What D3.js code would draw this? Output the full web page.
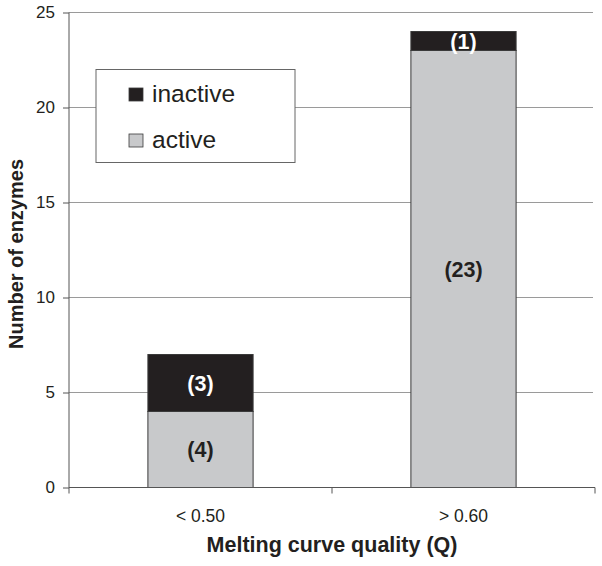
<!DOCTYPE html>
<html><head><meta charset="utf-8">
<script src="https://cdn.jsdelivr.net/npm/d3@7"></script>
<style>body{margin:0;background:#fff;} text{font-family:"Liberation Sans",Arial,Helvetica,sans-serif;}</style>
</head><body><svg id="c" width="602" height="566"></svg>
<script>
const categories = ["< 0.50", "> 0.60"];
const active = [4, 23];
const inactive = [3, 1];
const yTicks = [0, 5, 10, 15, 20, 25];
const seriesNames = ["inactive", "active"];
const colors = {inactive: "#231f20", active: "#c8c9cb"};

const svg = d3.select("#c");
const L = 69, R = 595, T = 12.5, B = 487.5;
const x = d3.scaleBand().domain(categories).range([L, R]).paddingInner(0.6).paddingOuter(0.3);
const y = d3.scaleLinear().domain([0, 25]).range([B, T]);

// gridlines
svg.append("g").selectAll("line").data(yTicks.filter(d => d > 0)).join("line")
  .attr("x1", L).attr("x2", 593).attr("y1", d => y(d)).attr("y2", d => y(d))
  .attr("stroke", "#9a9a9a").attr("stroke-width", 1.2);

// stacked bars
const data = categories.map((c, i) => ({cat: c, active: active[i], inactive: inactive[i]}));
const stack = d3.stack().keys(["active", "inactive"])(data);
const g = svg.append("g");
stack.forEach(layer => {
  g.selectAll(null).data(layer).join("rect")
    .attr("x", d => x(d.data.cat)).attr("width", x.bandwidth())
    .attr("y", d => y(d[1])).attr("height", d => y(d[0]) - y(d[1]))
    .attr("fill", colors[layer.key]).attr("stroke", "#3a3a3a").attr("stroke-width", 1);
  g.selectAll(null).data(layer).join("text")
    .attr("x", d => x(d.data.cat) + x.bandwidth() / 2)
    .attr("y", d => (y(d[0]) + y(d[1])) / 2 + 7.5)
    .attr("text-anchor", "middle").attr("font-weight", "bold").attr("font-size", 21.5)
    .attr("fill", layer.key === "inactive" ? "#fff" : "#231f20")
    .text(d => "(" + (d[1] - d[0]) + ")");
});

// y axis
const ya = d3.axisLeft(y).tickValues(yTicks).tickSize(6).tickPadding(8);
const yg = svg.append("g").attr("transform", `translate(${L},0)`).call(ya);
yg.select(".domain").attr("stroke", "#555").attr("d", `M0,${T}V${B}`);
yg.selectAll(".tick line").attr("stroke", "#555");
yg.selectAll(".tick text").attr("font-size", 17).attr("fill", "#231f20")
  .style("font-family", '"Liberation Sans",Arial,sans-serif');

// x axis
const xg = svg.append("g").attr("transform", `translate(0,${B})`);
xg.append("line").attr("x1", L).attr("x2", R).attr("stroke", "#555");
const sepTicks = [L, (x(categories[0]) + x.bandwidth() + x(categories[1])) / 2, R];
xg.selectAll(".sep").data(sepTicks).join("line").attr("class", "sep")
  .attr("x1", d => d).attr("x2", d => d).attr("y1", 0).attr("y2", 6).attr("stroke", "#555");
xg.selectAll(".lbl").data(categories).join("text").attr("class", "lbl")
  .attr("x", d => x(d) + x.bandwidth() / 2).attr("y", 34)
  .attr("text-anchor", "middle").attr("font-size", 17.5).attr("fill", "#231f20").text(d => d);

// axis titles
svg.append("text").attr("x", (L + R) / 2).attr("y", 552).attr("text-anchor", "middle")
  .attr("font-weight", "bold").attr("font-size", 21.5).attr("fill", "#231f20")
  .text("Melting curve quality (Q)");
svg.append("text").attr("transform", `translate(22.5,254) rotate(-90)`)
  .attr("text-anchor", "middle").attr("font-weight", "bold").attr("font-size", 20).attr("fill", "#231f20")
  .text("Number of enzymes");

// legend
const lg = svg.append("g");
lg.append("rect").attr("x", 96).attr("y", 69.5).attr("width", 199).attr("height", 93)
  .attr("fill", "#fff").attr("stroke", "#666").attr("stroke-width", 1);
seriesNames.forEach((s, i) => {
  const yy = 88 + i * 46;
  lg.append("rect").attr("x", 129).attr("y", yy).attr("width", 14).attr("height", 13)
    .attr("fill", colors[s]).attr("stroke", "#3a3a3a").attr("stroke-width", 0.8);
  lg.append("text").attr("x", 152).attr("y", yy + 14).attr("font-size", 24.5).attr("fill", "#231f20").text(s);
});
</script></body></html>
